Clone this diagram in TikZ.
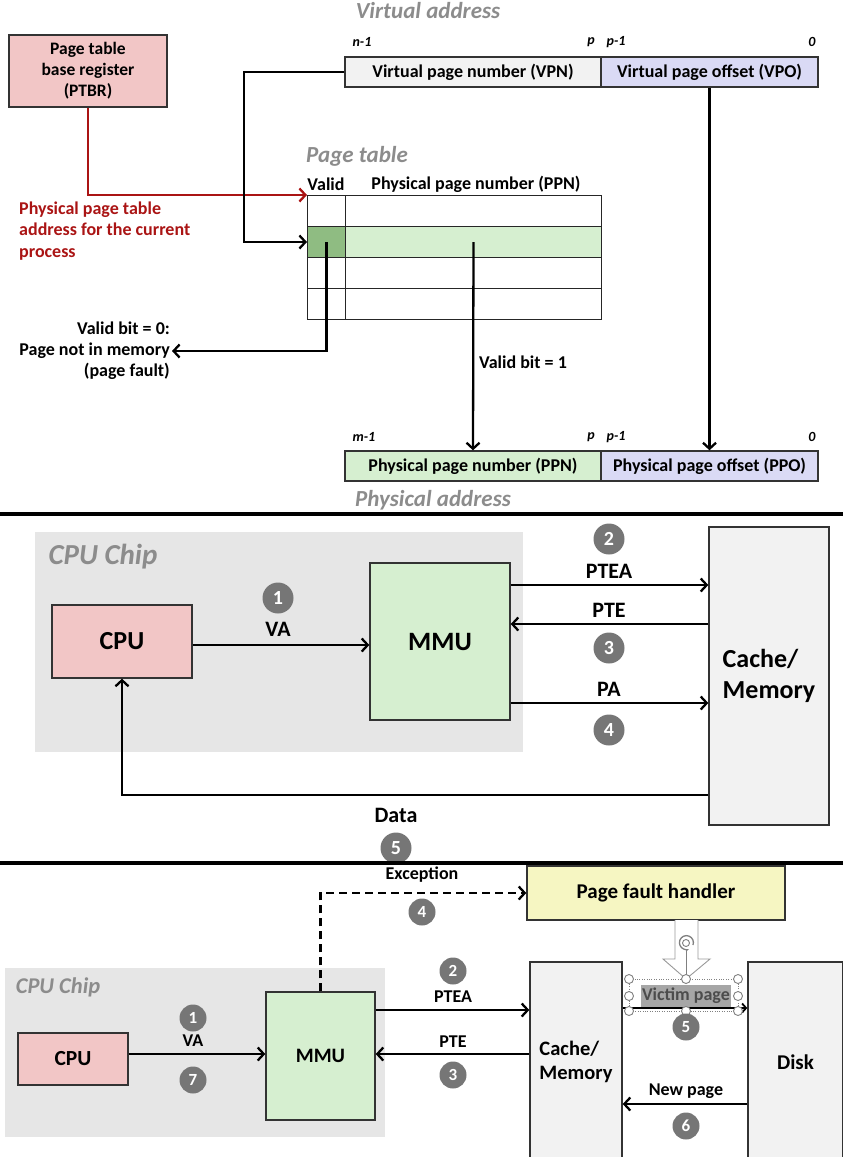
\documentclass[tikz,border=0pt]{standalone}
\usepackage{fontspec}
\setmainfont{Carlito}
\usetikzlibrary{arrows.meta,positioning}
\definecolor{ptbrpink}{RGB}{242,198,198}
\definecolor{pagegreen}{RGB}{214,239,208}
\definecolor{validgreen}{RGB}{143,188,130}
\definecolor{offsetblue}{RGB}{218,218,245}
\definecolor{boxgray}{RGB}{242,242,242}
\definecolor{chipgray}{RGB}{230,230,230}
\definecolor{titlegray}{RGB}{140,140,140}
\definecolor{ptred}{RGB}{170,20,20}
\definecolor{pfhyellow}{RGB}{246,246,194}
\definecolor{numgray}{RGB}{118,118,118}
\newcommand{\fsz}[2]{\fontsize{#1}{#2}\selectfont}
\begin{document}
\begin{tikzpicture}[x=1pt,y=-1pt,
    box/.style={draw=black!80,line width=1.4pt,inner sep=0pt,align=center,font=\bfseries\fsz{18}{21}},
    cell/.style={draw=black!85,line width=1pt,inner sep=0pt,anchor=north west},
    title/.style={text=titlegray,font=\bfseries\itshape\fsz{23}{23}},
    lbl/.style={inner sep=2pt,font=\bfseries\fsz{18}{21}},
    lblmid/.style={inner sep=2pt,font=\bfseries\fsz{22}{22}},
    lblsm/.style={inner sep=2pt,font=\bfseries\fsz{18}{18}},
    bitlbl/.style={font=\bfseries\itshape\fsz{14}{14}},
    num/.style={circle,fill=numgray,text=white,inner sep=0pt,minimum size=31pt,font=\bfseries\fsz{20}{20}},
    numsm/.style={num,minimum size=27pt,font=\bfseries\fsz{17}{17}},
    link/.style={-{Straight Barb[length=6pt,width=13pt]},line width=2.3pt},
    handle/.style={circle,draw=gray,fill=white,line width=0.9pt,inner sep=0pt,minimum size=9pt}]
  \useasboundingbox (0,0) rectangle (843,1157);

  % address translation with a page table
  \node[title] (vatitle) at (428,11) {Virtual address};
  \node[box,fill=ptbrpink,minimum width=158pt,minimum height=72pt,font=\bfseries\fsz{17.5}{21}] (ptbr) at (88,71) {Page table\\base register\\(PTBR)};
  \node[bitlbl] (vn1) at (362,42) {n-1};
  \node[bitlbl] (vp) at (591,42) {p};
  \node[bitlbl] (vp1) at (616,42) {p-1};
  \node[bitlbl] (v0) at (812,42) {0};
  \node[box,fill=boxgray,minimum width=256pt,minimum height=30pt] (vpn) at (473,72) {Virtual page number (VPN)};
  \node[box,fill=offsetblue,minimum width=217pt,minimum height=30pt] (vpo) at (709.5,72) {Virtual page offset (VPO)};

  \node[title] (pttitle) at (357,156) {Page table};
  \node[lbl] (validhd) at (326,184) {Valid};
  \node[lbl] (ppnhd) at (476,184) {Physical page number (PPN)};
  \fill[validgreen] (307,226) rectangle (345,257);
  \fill[pagegreen] (345,226) rectangle (601,257);
  \foreach \i/\t in {1/195,2/226,3/257,4/288} {
    \node[cell,minimum width=38pt,minimum height=31pt] (v\i) at (307,\t) {};
    \node[cell,minimum width=256pt,minimum height=31pt] (r\i) at (345,\t) {};
  }
  \node[lbl,text=ptred,align=left,anchor=west,font=\bfseries\fsz{18}{21.5}] (ptaddr) at (17,231) {Physical page table\\address for the current\\process};
  \draw[link,ptred] (ptbr.south) |- (v1.north west);
  \draw[link] (vpn.west) -- ++(-100,0) |- (v2.west);

  \node[lbl,align=right,anchor=east,font=\bfseries\fsz{18}{21}] (fault) at (172,351) {Valid bit = 0:\\Page not in memory\\(page fault)};
  \draw[link] (v2.center) |- (fault.east);
  \node[lbl,anchor=west] (vb1) at (477,362) {Valid bit = 1};

  \node[bitlbl] (pm1) at (364,437) {m-1};
  \node[bitlbl] (pp) at (591,437) {p};
  \node[bitlbl] (pp1) at (616,437) {p-1};
  \node[bitlbl] (p0) at (812,437) {0};
  \node[box,fill=pagegreen,minimum width=256pt,minimum height=30pt] (ppn) at (473,466) {Physical page number (PPN)};
  \node[box,fill=offsetblue,minimum width=217pt,minimum height=30pt] (ppo) at (709.5,466) {Physical page offset (PPO)};
  \draw[link] (r2.center) -- (ppn.north);
  \draw[link] (vpo.south) -- (ppo.north);
  \node[title] (patitle) at (433,500) {Physical address};
  \draw[line width=4.5pt] (0,514) -- (843,514);

  % page hit
  \node[fill=chipgray,minimum width=488pt,minimum height=220pt,anchor=north west] (chip) at (35,532) {};
  \node[title,font=\bfseries\itshape\fsz{29}{29}] (chiptitle) at (103,557) {CPU Chip};
  \node[box,fill=ptbrpink,minimum width=140pt,minimum height=73pt,font=\bfseries\fsz{26}{26}] (cpu) at (122,641.5) {CPU};
  \node[box,fill=pagegreen,minimum width=140pt,minimum height=157pt,font=\bfseries\fsz{26.5}{26.5}] (mmu) at (440,641.5) {MMU};
  \node[box,fill=boxgray,minimum width=120pt,minimum height=298pt,align=left,font=\bfseries\fsz{26}{31}] (mem) at (769,676) {Cache/\\Memory};

  \draw[link] (cpu.east |- 0,645) -- (mmu.west |- 0,645);
  \node[lblmid] (va) at (278,629) {VA};
  \node[num] (h1) at (278,598) {1};
  \draw[link] (mmu.east |- 0,585) -- (mem.west |- 0,585);
  \node[lblmid] (ptea) at (609,571) {PTEA};
  \node[num] (h2) at (609,539) {2};
  \draw[link] (mem.west |- 0,624) -- (mmu.east |- 0,624);
  \node[lblmid] (pte) at (609,610) {PTE};
  \node[num] (h3) at (609,648) {3};
  \draw[link] (mmu.east |- 0,703) -- (mem.west |- 0,703);
  \node[lblmid] (pa) at (609,689) {PA};
  \node[num] (h4) at (609,730) {4};
  \draw[link] (mem.west |- 0,795) -| (cpu.south);
  \node[lblmid] (data) at (396,815) {Data};
  \node[num] (h5) at (396,848) {5};
  \draw[line width=4.5pt] (0,863) -- (843,863);

  % page fault
  \node[box,fill=pfhyellow,minimum width=258pt,minimum height=54pt,font=\bfseries\fsz{21}{21}] (pfh) at (656,893) {Page fault handler};
  \node[fill=chipgray,minimum width=380pt,minimum height=169pt,anchor=north west] (chipb) at (5,968) {};
  \node[title,font=\bfseries\itshape\fsz{22.5}{22.5}] (chipbtitle) at (58,987) {CPU Chip};
  \node[box,fill=ptbrpink,minimum width=110pt,minimum height=52pt,font=\bfseries\fsz{21.5}{21.5}] (cpub) at (73,1059) {CPU};
  \node[box,fill=pagegreen,minimum width=109pt,minimum height=128pt,font=\bfseries\fsz{20.5}{20.5}] (mmub) at (320.5,1056) {MMU};
  \node[box,fill=boxgray,minimum width=92pt,minimum height=200pt,align=left,font=\bfseries\fsz{20.5}{24}] (memb) at (576,1062) {Cache/\\Memory};
  \node[box,fill=boxgray,minimum width=95pt,minimum height=200pt,font=\bfseries\fsz{21}{21}] (disk) at (795.5,1062) {Disk};

  \draw[link,dash pattern=on 8pt off 5pt] (mmub.north) |- (pfh.west);
  \node[lblsm] (exc) at (422,875) {Exception};
  \node[numsm] (f4) at (422,912) {4};
  \draw[link] (cpub.east |- 0,1054) -- (mmub.west |- 0,1054);
  \node[lblsm] (vab) at (193,1041) {VA};
  \node[numsm] (f1) at (193,1018) {1};
  \node[numsm] (f7) at (193,1080) {7};
  \draw[link] (mmub.east |- 0,1010) -- (memb.west |- 0,1010);
  \node[lblsm] (pteab) at (453,997) {PTEA};
  \node[numsm] (f2) at (453,971) {2};
  \draw[link] (memb.west |- 0,1054) -- (mmub.east |- 0,1054);
  \node[lblsm] (pteb) at (453,1042) {PTE};
  \node[numsm] (f3) at (453,1075) {3};

  % victim page, still selected as in the slide
  \draw[-{Straight Barb[length=4pt,width=9pt]},line width=1.8pt] (memb.east |- 0,1008) -- (disk.west |- 0,1008);
  \node[fill=black!35,text=black!70,inner sep=1pt,minimum height=22pt,font=\bfseries\fsz{18}{18}] (victim) at (686,996) {Victim page};
  \draw[gray,dotted] (629,979) rectangle (738,1011);
  \draw[gray!80,fill=white,line width=0.9pt] (675,920) -- (675,959) -- (663,959) -- (686,979) -- (710,959) -- (698,959) -- (698,920);
  \draw[gray,line width=0.9pt] (686,979) -- (686,950);
  \draw[gray,line width=1.3pt,-{Stealth[length=3.5pt]}] (693,945) arc[start angle=-20,end angle=290,radius=7pt];
  \draw[gray,line width=0.9pt] (686,943) circle (3.5pt);
  \foreach \hx/\hy in {629/979,686/979,738/979,629/996,738/996,629/1011,686/1011,738/1011}
    \node[handle] at (\hx,\hy) {};
  \node[numsm] (f5) at (686,1027) {5};
  \draw[link] (disk.west |- 0,1104) -- (memb.east |- 0,1104);
  \node[lblsm] (newpg) at (686,1091) {New page};
  \node[numsm] (f6) at (686,1126) {6};
\end{tikzpicture}
\end{document}
